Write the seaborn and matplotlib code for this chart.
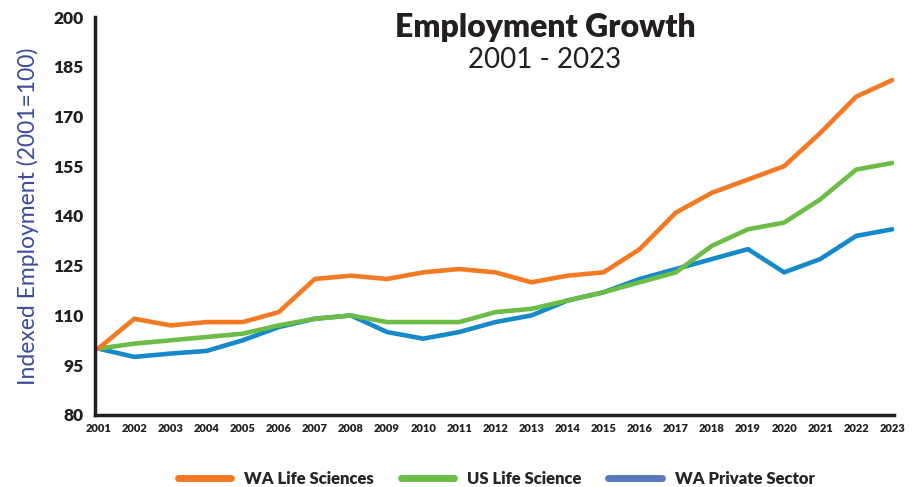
#Imports the libraries needed to build the chart
import pandas as pd
import matplotlib.pyplot as plt
import seaborn as sns
from matplotlib.lines import Line2D

#Chart data
years = list(range(2001, 2024))
wa_life_sciences = [100, 109, 107, 108, 108, 111, 121, 122, 121, 123, 124, 123,
                    120, 122, 123, 130, 141, 147, 151, 155, 165, 176, 181]
us_life_science = [100, 101.5, 102.5, 103.5, 104.5, 107, 109, 110, 108, 108, 108, 111,
                   112, 114.5, 117, 120, 123, 131, 136, 138, 145, 154, 156]
wa_private_sector = [100, 97.5, 98.5, 99.3, 102.5, 106.5, 109, 110, 105, 103, 105, 108,
                     110, 114.5, 117, 121, 124, 127, 130, 123, 127, 134, 136]
series_names = ["WA Life Sciences", "US Life Science", "WA Private Sector"]
y_ticks = [80, 95, 110, 125, 140, 155, 170, 185, 200]


def build_dataset():
    #long form table so seaborn can colour each series by hue
    frames = []
    for name, values in zip(series_names, [wa_life_sciences, us_life_science, wa_private_sector]):
        frames.append(pd.DataFrame({"Year": years, "Index": values, "Series": name}))
    return pd.concat(frames, ignore_index=True)


def make_chart(dataset):
    sns.set_style("white")
    plt.rcParams["font.family"] = ["Lato", "DejaVu Sans"]

    colors = {"WA Life Sciences": "#F37A23",
              "US Life Science": "#6CBD45",
              "WA Private Sector": "#1689CA"}

    fig = plt.figure(figsize=(9.19, 4.87), dpi=100)
    ax = fig.add_axes([0.103, 0.148, 0.870, 0.817])

    #draw the private sector first so the life science lines sit on top like the original
    sns.lineplot(data=dataset, x="Year", y="Index", hue="Series",
                 hue_order=["WA Private Sector", "US Life Science", "WA Life Sciences"],
                 palette=colors, linewidth=3.3, legend=False, ax=ax)

    ax.set_xlim(2000.9, 2023.05)
    ax.set_ylim(80, 200)
    ax.set_xticks(years)
    ax.set_xticklabels([str(y) for y in years], fontsize=8, fontweight="heavy", color="#231F20")
    ax.set_yticks(y_ticks)
    ax.set_yticklabels([str(v) for v in y_ticks], fontsize=12.5, fontweight="heavy", color="#231F20")
    ax.tick_params(axis="x", direction="in", length=7, width=2, color="#231F20", pad=6)
    ax.tick_params(axis="y", direction="in", length=7, width=2, color="#231F20", pad=8)

    for side in ["top", "right"]:
        ax.spines[side].set_visible(False)
    for side in ["left", "bottom"]:
        ax.spines[side].set_linewidth(2.5)
        ax.spines[side].set_color("#231F20")

    ax.set_xlabel("")
    ax.set_ylabel("Indexed Employment (2001=100)", fontsize=16.5, color="#3B4C9B",
                  fontweight="normal", labelpad=10)
    ax.grid(False)

    #title and subtitle are placed inside the plot area, above the lines
    fig.text(0.593, 0.923, "Employment Growth", ha="center", fontsize=23,
             fontweight="heavy", color="#231F20")
    fig.text(0.593, 0.860, "2001 - 2023", ha="center", fontsize=20,
             fontweight="normal", color="#231F20")

    #legend uses a slightly different blue for the private sector patch
    handles = [Line2D([0], [0], color="#F37A23", linewidth=5),
               Line2D([0], [0], color="#6CBD45", linewidth=5),
               Line2D([0], [0], color="#5A79BF", linewidth=5)]
    fig.legend(handles=handles, labels=series_names, loc="lower center",
               bbox_to_anchor=(0.54, -0.03), ncol=3, frameon=False,
               handlelength=3.2, columnspacing=1.6, handletextpad=0.8,
               prop={"size": 12, "weight": "heavy"})
    return fig


def run():
    dataset = build_dataset()
    fig = make_chart(dataset)
    fig.savefig("out.png", dpi=100)


if __name__ == "__main__":
    run()
